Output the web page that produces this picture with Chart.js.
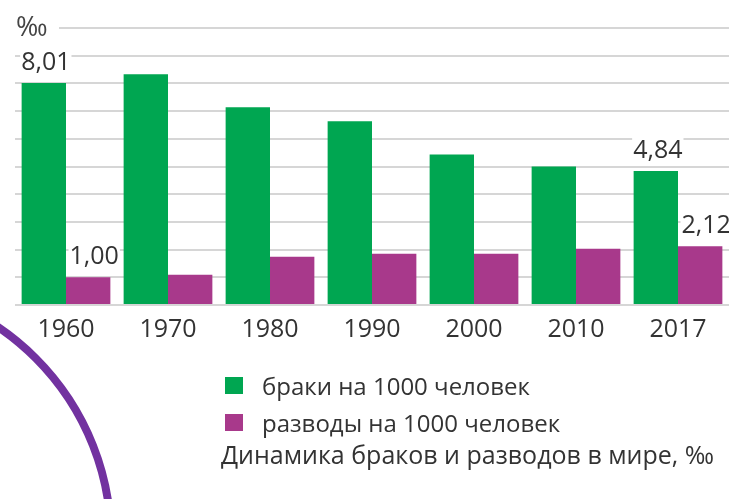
<!DOCTYPE html>
<html>
<head>
<meta charset="utf-8">
<script src="https://cdn.jsdelivr.net/npm/chart.js@4"></script>
<style>
  html, body { margin: 0; padding: 0; background: #fff; }
  body { width: 729px; height: 499px; position: relative; overflow: hidden; font-family: "Open Sans", sans-serif; color: #333; }
  #wrap { position: absolute; left: 0; top: 0; width: 729px; height: 499px; }
  #legend { position: absolute; left: 225px; top: 367px; }
  .item { height: 37px; display: flex; align-items: center; font-size: 24px; }
  .box { width: 18px; height: 17px; margin-right: 19px; }
  #caption { position: absolute; left: 221px; top: 437px; font-size: 25px; white-space: nowrap; }
</style>
</head>
<body>
<div id="wrap"><canvas id="myChart"></canvas></div>
<div id="legend"></div>
<div id="caption">Динамика браков и разводов в мире, ‰</div>
<script>
var years = ['1960', '1970', '1980', '1990', '2000', '2010', '2017'];
var marriages = [8.01, 8.33, 7.14, 6.63, 5.43, 5.0, 4.84];
var divorces = [1.00, 1.09, 1.74, 1.85, 1.85, 2.03, 2.12];
var marriageLabels = ['8,01', '', '', '', '', '', '4,84'];
var divorceLabels = ['1,00', '', '', '', '', '', '2,12'];
var seriesNames = ['браки на 1000 человек', 'разводы на 1000 человек'];

var FONT = '"Open Sans", sans-serif';

// value labels with a white box behind them, plus the permille mark and the arc
var extras = {
    id: 'extras',
    afterDatasetsDraw: function(chart) {
        var ctx = chart.ctx;
        var all = [marriageLabels, divorceLabels];
        ctx.save();
        ctx.font = '25px ' + FONT;
        ctx.textAlign = 'center';
        ctx.textBaseline = 'bottom';
        all.forEach(function(lbls, d) {
            var meta = chart.getDatasetMeta(d);
            lbls.forEach(function(t, i) {
                if (!t) return;
                var el = meta.data[i];
                var w = ctx.measureText(t).width;
                var x = el.x + (d == 1 ? 6 : 2);
                var y = el.y - 8;
                ctx.fillStyle = '#fff';
                ctx.fillRect(x - w / 2 - 1, y - 26, w + 2, 24);
                ctx.fillStyle = '#333';
                ctx.fillText(t, x, y);
            });
        });
        // permille sign at the top of the axis
        var top = chart.scales.y.getPixelForValue(10);
        ctx.fillStyle = '#fff';
        ctx.fillRect(0, top - 4, 59, 8);
        ctx.fillStyle = '#444';
        ctx.font = '27px ' + FONT;
        ctx.textAlign = 'left';
        ctx.textBaseline = 'middle';
        ctx.fillText('‰', 16, top);
        // decorative purple arc
        ctx.beginPath();
        ctx.strokeStyle = '#7232a0';
        ctx.lineWidth = 8;
        ctx.arc(-146, 540, 257, -Math.PI / 2, 0);
        ctx.stroke();
        ctx.restore();
    }
};

function showGraph() {
    var chartdata = {
        labels: years,
        datasets: [
            { label: seriesNames[0], data: marriages, backgroundColor: '#00a651' },
            { label: seriesNames[1], data: divorces, backgroundColor: '#a8398b' }
        ]
    };
    var options = {
        responsive: true,
        maintainAspectRatio: false,
        animation: false,
        layout: { padding: { left: 15, right: 0, top: 28, bottom: 149 } },
        datasets: { bar: { categoryPercentage: 0.87, barPercentage: 1.0 } },
        plugins: { legend: { display: false }, tooltip: { enabled: false } },
        scales: {
            x: {
                grid: { display: false, drawTicks: false },
                border: { display: false },
                ticks: { color: '#333', font: { family: FONT, size: 25 }, padding: 10 },
                afterFit: function(s) { s.height = 45; }
            },
            y: {
                min: 0, max: 10,
                grid: { color: '#d6d6d6', lineWidth: 2, drawTicks: false },
                border: { display: false },
                ticks: { display: false, stepSize: 1 },
                afterFit: function(s) { s.width = 0; }
            }
        }
    };
    var graph = new Chart(document.getElementById('myChart'), {
        type: 'bar',
        data: chartdata,
        options: options,
        plugins: [extras]
    });

    var legend = document.getElementById('legend');
    chartdata.datasets.forEach(function(ds) {
        var row = document.createElement('div');
        row.className = 'item';
        row.innerHTML = '<span class="box" style="background:' + ds.backgroundColor + '"></span>' + ds.label;
        legend.appendChild(row);
    });
}

showGraph();
</script>
</body>
</html>
